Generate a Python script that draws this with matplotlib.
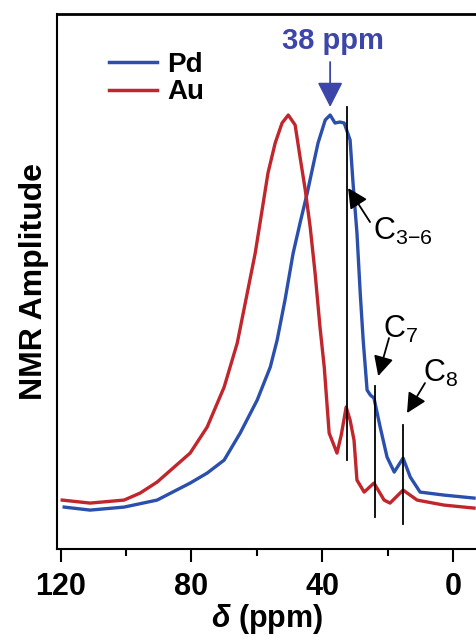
import matplotlib.pyplot as plt
from matplotlib.ticker import MultipleLocator

plt.rcParams['font.family'] = ['Liberation Sans', 'DejaVu Sans']
plt.rcParams['mathtext.fontset'] = 'custom'
plt.rcParams['mathtext.rm'] = 'Liberation Sans'
plt.rcParams['mathtext.it'] = 'Liberation Sans:italic:bold'
plt.rcParams['mathtext.bf'] = 'Liberation Sans:bold'

# chemical shift (ppm) and amplitude (arb. units)
au_ppm = [119.5, 111.0, 100.6, 95.7, 90.5, 80.4, 75.2, 70.0, 66.0, 63.0,
          60.5, 58.4, 56.6, 54.4, 52.3, 50.4, 48.3, 46.8, 45.2, 43.7,
          42.2, 40.7, 39.4, 37.9, 35.5, 34.2, 32.7, 31.5, 30.3, 29.4,
          27.2, 24.2, 21.1, 19.3, 15.3, 11.0, 2.8, -6.4]
au_amp = [49, 46, 49, 56, 67, 96, 122, 162, 206, 255,
          296, 339, 376, 406, 426, 434, 424, 392, 359, 322,
          276, 222, 182, 116, 96, 114, 142, 129, 109, 69,
          57, 66, 49, 46, 59, 49, 44, 41]

pd_ppm = [118.9, 111.0, 100.6, 90.5, 80.4, 75.2, 70.0, 65.1, 59.9, 55.9,
          53.8, 51.4, 48.9, 46.8, 44.6, 43.1, 41.3, 39.1, 37.6, 36.1,
          34.6, 33.3, 31.5, 30.6, 29.4, 28.4, 27.5, 26.3, 25.3, 24.2,
          22.3, 20.2, 18.0, 15.3, 13.1, 10.1, 2.8, -6.4]
pd_amp = [42, 39, 42, 49, 66, 76, 89, 116, 149, 182,
          209, 249, 296, 326, 356, 379, 406, 429, 434, 426,
          427, 426, 409, 366, 316, 256, 209, 159, 154, 151,
          122, 92, 77, 91, 72, 57, 54, 51]

# marker lines for the carbon positions: ppm, bottom, top
peak_ppm = [32.4, 23.8, 15.3]
peak_bottom = [89, 32, 25]
peak_top = [442, 163, 124]

blue = '#2b4fad'
red = '#c0262b'

fig = plt.figure(figsize=(4.77, 6.37), dpi=100)
ax = fig.add_axes([0.1195, 0.138, 0.8805, 0.84])

ax.plot(pd_ppm, pd_amp, color=blue, lw=2.4, label='Pd')
ax.plot(au_ppm, au_amp, color=red, lw=2.4, label='Au')

for p, b, t in zip(peak_ppm, peak_bottom, peak_top):
    ax.plot([p, p], [b, t], color='black', lw=1.3)

ax.set_xlim(121.1, -7.3)
ax.set_ylim(0, 535)

ax.xaxis.set_major_locator(MultipleLocator(40))
ax.xaxis.set_minor_locator(MultipleLocator(20))
ax.tick_params(axis='x', which='major', length=9.5, width=1.5, pad=7,
               labelsize=22)
ax.tick_params(axis='x', which='minor', length=5, width=1.5)
ax.set_yticks([])
for lab in ax.get_xticklabels():
    lab.set_fontweight('bold')

ax.spines['right'].set_visible(False)
ax.spines['left'].set_linewidth(1.5)
ax.spines['bottom'].set_linewidth(1.5)
ax.spines['top'].set_linewidth(2)

ax.set_xlabel(r'$\delta$ (ppm)', fontsize=22, fontweight='bold', labelpad=0)
ax.set_ylabel('NMR Amplitude', fontsize=23, fontweight='bold', labelpad=6)

leg = ax.legend(loc='upper left', bbox_to_anchor=(0.064, 0.976), frameon=False,
                prop={'weight': 'bold', 'size': 20}, handlelength=1.75,
                handletextpad=0.35, labelspacing=0.05)
for line in leg.get_lines():
    line.set_linewidth(2.5)

ax.annotate('', xy=(37.6, 442), xytext=(37.6, 487),
            arrowprops=dict(arrowstyle='-|>,head_length=0.55,head_width=0.28',
                            color='#3c46a8', lw=1.3, mutation_scale=28,
                            shrinkA=0, shrinkB=0))
ax.text(36.7, 508, '38 ppm', color='#3c46a8', fontsize=21, fontweight='bold',
        ha='center', va='center')

arrow = dict(arrowstyle='-|>,head_length=0.5,head_width=0.25', color='black',
             lw=1.3, mutation_scale=24, shrinkA=0, shrinkB=0)
ax.annotate('', xy=(32.1, 361), xytext=(25.4, 327), arrowprops=arrow)
ax.text(24.5, 309, r'C$_{3\mathrm{-}6}$', fontsize=22, ha='left', va='baseline')
ax.annotate('', xy=(22.9, 173), xytext=(19.6, 211), arrowprops=arrow)
ax.text(21.4, 211, r'C$_7$', fontsize=22, ha='left', va='baseline')
ax.annotate('', xy=(14.1, 136), xytext=(8.6, 166), arrowprops=arrow)
ax.text(9.2, 167, r'C$_8$', fontsize=22, ha='left', va='baseline')

fig.savefig('out.png', dpi=100)
